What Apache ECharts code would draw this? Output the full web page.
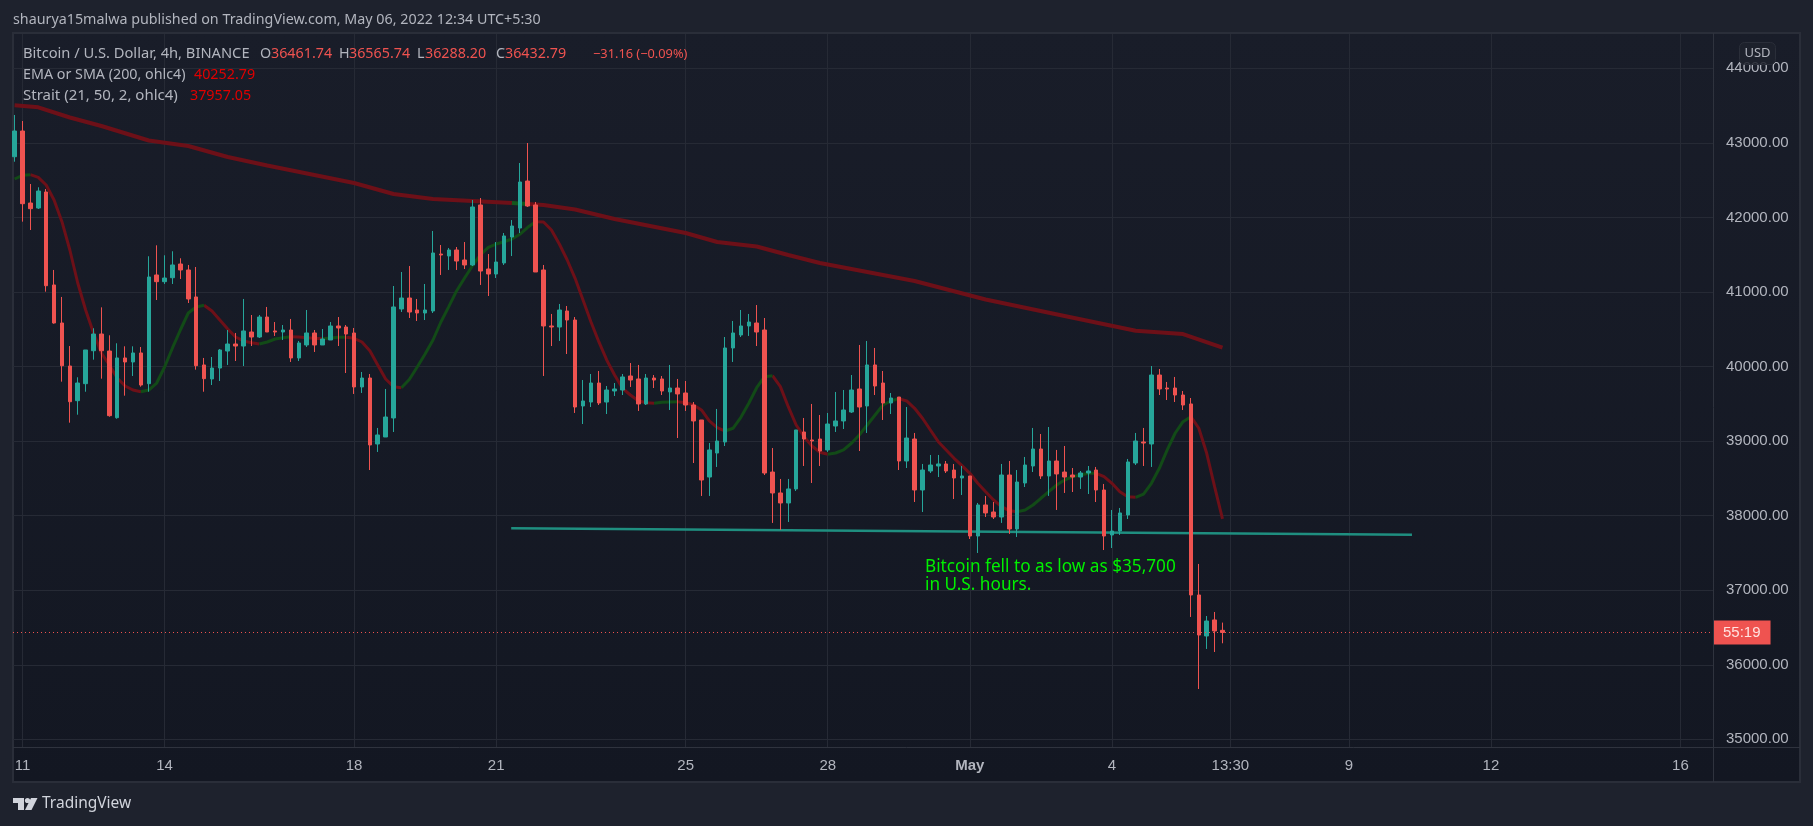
<!DOCTYPE html>
<html>
<head>
<meta charset="utf-8">
<title>BTCUSD 4h</title>
<style>
  html, body { margin: 0; padding: 0; background: #1e222d; }
  #main { width: 1813px; height: 826px; }
</style>
<script src="https://cdn.jsdelivr.net/npm/echarts@6/dist/echarts.min.js"></script>
</head>
<body>
<div id="main"></div>
<script>
// 4h candles, bar index is the x value
const opens = [42814,43159,42193,42126,42341,41094,40584,40007,39542,39770,
  40212,40436,40208,39314,40115,40061,40182,39770,41228,41138,
  41191,41375,41295,40933,40021,39833,39980,40208,40302,40275,
  40463,40396,40664,40477,40463,40490,40115,40289,40450,40289,
  40356,40544,40530,40450,39726,39846,38961,39055,39310,40772,
  40919,40758,40718,40745,41509,41483,41563,41429,41362,42167,
  41308,41241,41389,41737,41858,42488,42167,41295,40544,40530,
  40745,40624,39471,39524,39779,39524,39672,39685,39873,39833,
  39498,39846,39833,39659,39712,39645,39484,39283,38518,38840,
  38988,40249,40423,40544,40584,40490,38585,38304,38170,38358,
  39122,39015,39028,38881,39202,39270,39390,39699,39471,40021,
  39779,39511,39591,38733,39028,38344,38599,38666,38693,38612,
  38505,38532,37727,38143,38049,37982,38545,37821,38438,38666,
  38894,38532,38733,38585,38545,38518,38572,38612,38344,37741,
  37794,38009,38706,38988,38961,39886,39712,39712,39618,39498,
  36936,36386,36601,36461.74]
const closes = [43159,42184,42117,42354,41084,40584,40011,39528,39779,40222,
  40436,40212,39341,40115,40061,40182,39752,41201,41138,41187,
  41362,41295,40906,40011,39837,39980,40222,40302,40275,40477,
  40396,40664,40463,40463,40490,40115,40316,40450,40289,40369,
  40544,40517,40436,39726,39846,38948,39082,39323,40799,40919,
  40731,40718,40758,41523,41496,41563,41415,41362,42140,41281,
  41241,41402,41751,41885,42475,42153,41268,40544,40530,40758,
  40624,39457,39538,39779,39511,39685,39699,39860,39819,39498,
  39846,39819,39672,39712,39632,39484,39270,38478,38881,39001,
  40249,40450,40544,40597,40463,38572,38304,38170,38358,39149,
  39028,39001,38867,39229,39270,39417,39685,39457,40021,39739,
  39511,39578,38733,39041,38344,38612,38679,38693,38599,38505,
  38532,37727,38143,38036,37982,38545,37821,38451,38679,38894,
  38532,38733,38559,38518,38518,38572,38599,38344,37727,37794,
  38036,38720,39001,38974,39886,39699,39699,39618,39484,36936,
  36399,36587,36453,36432.79]
const highs = [43374,43293,42448,42404,42381,41295,40933,40275,39856,40222,
  40513,40794,40419,40312,40271,40271,40262,41479,41626,41492,
  41546,41452,41362,41335,40115,40128,40235,40490,40450,40906,
  40691,40691,40799,40597,40557,40638,40343,40758,40490,40503,
  40597,40664,40557,40517,39927,39900,39176,39699,41080,41268,
  41348,40906,41107,41818,41630,41590,41603,41670,42234,42260,
  41509,41670,41791,41965,42730,42998,42207,41362,40705,40839,
  40812,40664,39819,39900,39940,39739,39779,39900,40047,40021,
  39900,39886,39873,40021,39833,39806,39524,39283,38974,39431,
  40396,40611,40758,40705,40825,40651,38907,38492,38492,39149,
  39310,39498,39350,39377,39659,39685,39886,40289,40343,40249,
  39940,39645,39591,39457,39109,38693,38814,38814,38733,38693,
  38666,38532,38170,38264,38183,38693,38733,38612,38787,39176,
  39095,39189,38881,38934,38639,38599,38666,38653,38425,38076,
  38103,38760,39109,39176,40007,39967,39793,39860,39672,39578,
  37352,36654,36708,36565.74]
const lows = [42747,41943,41831,42113,41004,40575,39797,39247,39354,39662,
  40092,39837,39327,39300,39609,39873,39730,39662,40892,41107,
  41107,41174,40852,39958,39662,39752,39806,40021,40074,40007,
  40275,40383,40463,40410,40356,40061,40074,40262,40195,40289,
  40356,40275,39913,39632,39645,38612,38854,39055,39122,40731,
  40651,40611,40624,40718,41228,41295,41295,41308,41348,41094,
  40946,41187,41362,41482,41791,42140,41268,39873,40275,40343,
  40168,39377,39229,39457,39484,39363,39605,39618,39726,39404,
  39484,39712,39618,39417,39041,39404,38706,38264,38264,38653,
  38934,40061,40396,40410,40275,38545,37902,37808,37915,38331,
  38666,38438,38666,38854,39122,39162,39377,38867,39109,39618,
  39283,39363,38612,38639,38183,38049,38572,38518,38572,38223,
  38277,37687,37499,37982,37955,37902,37754,37714,38384,38585,
  38492,38264,38076,38304,38317,38358,38290,38183,37539,37566,
  37741,37955,38679,38666,38653,39618,39551,39524,39417,36641,
  35675,36212,36171,36288.20]

// Strait indicator, one value per bar
const straitValues = [42515,42565,42573,42538,42435,42234,41943,41563,41120,40758,
  40450,40182,40021,39846,39739,39685,39662,39685,39779,39994,
  40249,40490,40718,40799,40821,40745,40624,40503,40396,40343,
  40320,40302,40329,40369,40387,40400,40396,40387,40379,40373,
  40383,40392,40392,40379,40329,40212,40021,39833,39730,39716,
  39826,39994,40168,40356,40597,40803,41017,41187,41352,41496,
  41599,41643,41674,41711,41774,41867,41943,41939,41831,41643,
  41429,41183,40892,40601,40333,40088,39886,39708,39618,39542,
  39515,39507,39520,39524,39528,39515,39484,39417,39270,39180,
  39135,39172,39319,39507,39716,39864,39877,39730,39461,39216,
  39059,38934,38850,38823,38840,38881,38971,39082,39216,39350,
  39484,39538,39569,39538,39440,39306,39149,38992,38881,38769,
  38670,38568,38434,38321,38210,38120,38067,38053,38076,38143,
  38233,38321,38411,38478,38523,38545,38568,38568,38523,38434,
  38321,38254,38246,38290,38434,38635,38881,39105,39260,39327,
  39172,38836,38388,37957.05]
const straitGreenRuns = [[0,2],[16,24],[31,35],[39,42],[49,66],[81,84],[90,96],[103,112],[127,137],[142,149]]

// EMA or SMA, read at these bars
const maBars = [0,3,7,11,17,22,27,32,43,48,53,63,65,67,71,76,85,89,94,98,102,114,123,133,142,148,153]
const maValues = [43504,43476,43340,43226,43032,42958,42810,42696,42462,42314,42247,42193,42180,42167,42106,41979,41791,41670,41610,41496,41389,41147,40899,40678,40481,40436,40252.79]
const maGreenRuns = [[63,65]]

const trendBars = [62.9,177]
const trendPrices = [37832,37745]

const priceTicks = [35000,36000,37000,38000,39000,40000,41000,42000,43000,44000]
const timeTickBars = [1,19,43,61,85,103,121,139,154,169,187,211]
const timeTickLabels = ['11','14','18','21','25','28','May','4','13:30','9','12','16']

const lastClose = 36432.79
const countdown = '55:19'
const ohlcKeys = ['O','H','L','C']
const ohlcTexts = ['36461.74','36565.74','36288.20','36432.79']
const changeText = '−31.16 (−0.09%)'
const note = 'Bitcoin fell to as low as $35,700\nin U.S. hours.'

const UI_FONT = '"Noto Sans", sans-serif'
const AXIS_FONT = '"Liberation Sans", sans-serif'
const UP = '#26a69a'
const DOWN = '#ef5350'

function inRuns(i, runs) {
  return runs.some(r => i >= r[0] && i <= r[1])
}

function label(text, x, y, fill, size, opts) {
  return {
    type: 'text', z: 20, x: x, y: y,
    style: Object.assign({
      text: text, fill: fill, font: (size || 14.3) + 'px ' + UI_FONT, verticalAlign: 'middle'
    }, opts || {})
  }
}

function hline(x1, y1, x2, y2, color) {
  return { type: 'line', z: 15, shape: { x1: x1, y1: y1, x2: x2, y2: y2 }, style: { stroke: color, lineWidth: 1 } }
}

const myChart = echarts.init(document.getElementById('main'), null, { renderer: 'canvas' })

const candles = opens.map((o, i) => [i, o, closes[i], lows[i], highs[i]])
// the first and last point of a green run are kept in the red line too, so the two join up
const straitRed = straitValues.map((v, i) => {
  const inside = inRuns(i, straitGreenRuns) && inRuns(i - 1, straitGreenRuns) && inRuns(i + 1, straitGreenRuns)
  return [i, inside ? null : v]
})
const straitGreen = straitValues.map((v, i) => [i, inRuns(i, straitGreenRuns) ? v : null])
const maPairs = maBars.map((b, i) => [b, maValues[i]])
// break the red line between the two ends of the green run
const maRed = [
  ...maPairs.filter(p => p[0] <= maGreenRuns[0][0]),
  [maGreenRuns[0][0] + 1, null],
  ...maPairs.filter(p => p[0] >= maGreenRuns[0][1])
]
const maGreen = maPairs.filter(p => inRuns(p[0], maGreenRuns))

function lineSeries(data, color, width) {
  return {
    type: 'line', data: data, showSymbol: false, symbol: 'none', z: 2, silent: true,
    connectNulls: false, smooth: false, lineStyle: { color: color, width: width }, animation: false
  }
}

// legend rows and the frame are plain graphics
let legendItems = [
  label('Bitcoin / U.S. Dollar, 4h, BINANCE', 23, 54, '#b2b5be', 14.7),
  label('EMA or SMA (200, ohlc4)', 23, 75, '#b2b5be'),
  label('40252.79', 194, 75, '#e00000'),
  label('Strait (21, 50, 2, ohlc4)', 23, 96, '#b2b5be', 15),
  label('37957.05', 190, 96, '#e00000'),
  label(changeText, 593, 54, DOWN, 12.8)
]
const ohlcX = [260, 339, 417, 496]
const ohlcGap = [11, 10, 8, 9]
ohlcKeys.forEach((k, i) => {
  legendItems.push(label(k, ohlcX[i], 54, '#b2b5be'))
  legendItems.push(label(ohlcTexts[i], ohlcX[i] + ohlcGap[i], 54, DOWN))
})

const option = {
  animation: false,
  backgroundColor: '#1e222d',
  grid: { left: 13, right: 100, top: 34, bottom: 79, containLabel: false },
  xAxis: {
    type: 'value',
    min: -0.2,
    max: 215.13,
    axisLine: { show: false },
    axisTick: { show: false, customValues: timeTickBars },
    splitLine: { show: true, lineStyle: { color: '#262a35', width: 1 } },
    axisLabel: {
      customValues: timeTickBars,
      margin: 11,
      color: '#b2b5be',
      fontSize: 15,
      fontFamily: AXIS_FONT,
      formatter: function(v) {
        const t = timeTickLabels[timeTickBars.indexOf(v)]
        return t === 'May' ? '{b|May}' : t
      },
      rich: { b: { fontWeight: 'bold', fontSize: 15, fontFamily: AXIS_FONT, color: '#b2b5be' } }
    }
  },
  yAxis: {
    type: 'value',
    position: 'right',
    min: 34897,
    max: 44460,
    axisLine: { show: false },
    axisTick: { show: false, customValues: priceTicks },
    splitLine: { show: true, lineStyle: { color: '#262a35', width: 1 } },
    axisLabel: {
      customValues: priceTicks,
      margin: 13,
      padding: [2, 0, 0, 0],
      color: '#b2b5be',
      fontSize: 15,
      fontFamily: AXIS_FONT,
      formatter: v => v.toFixed(2)
    }
  },
  series: [
    lineSeries(trendBars.map((b, i) => [b, trendPrices[i]]), '#1f8f80', 2.5),
    lineSeries(maRed, '#6d1018', 4),
    lineSeries(maGreen, '#14551c', 4),
    lineSeries(straitRed, '#6d1018', 3),
    lineSeries(straitGreen, '#124a17', 3),
    {
      type: 'candlestick',
      layout: 'horizontal',
      z: 3,
      barWidth: 4,
      silent: true,
      data: candles,
      itemStyle: { color: UP, color0: DOWN, borderColor: UP, borderColor0: DOWN, borderWidth: 1 },
      markLine: {
        silent: true,
        symbol: 'none',
        animation: false,
        lineStyle: { color: DOWN, type: [1, 3], width: 1 },
        label: {
          position: 'end', distance: 0, formatter: countdown, color: '#ffe3e1', fontSize: 15,
          fontFamily: AXIS_FONT, backgroundColor: DOWN, padding: [5, 10, 4, 10]
        },
        data: [{ yAxis: lastClose }]
      }
    }
  ],
  graphic: [
    {
      type: 'rect', z: -10, shape: { x: 13, y: 33, width: 1787, height: 749 },
      style: {
        stroke: '#2a2e39', lineWidth: 2,
        fill: new echarts.graphic.LinearGradient(0, 0, 0, 1, [
          { offset: 0, color: '#191d29' }, { offset: 1, color: '#131722' }
        ])
      }
    },
    hline(1713.5, 33, 1713.5, 782, '#2f333e'),
    hline(13, 747.5, 1800, 747.5, '#2f333e'),
    label('shaurya15malwa published on TradingView.com, May 06, 2022 12:34 UTC+5:30', 13, 20, '#b2b5be'),
    ...legendItems,
    {
      type: 'rect', z: 18, shape: { x: 1739.5, y: 42.5, width: 36, height: 22, r: 5 },
      style: { fill: 'rgba(30,34,45,0.85)', stroke: '#2a2e39', lineWidth: 1 }
    },
    label('USD', 1757.5, 53, '#b2b5be', 13, { align: 'center' }),
    label(note, 925, 576, '#00f000', 17.2, { lineHeight: 18 }),
    // TradingView mark
    { type: 'polygon', z: 20, shape: { points: [[13, 798], [24, 798], [24, 810], [18, 810], [18, 803], [13, 803]] }, style: { fill: '#d1d4dc' } },
    { type: 'polygon', z: 20, shape: { points: [[31, 798], [37.5, 798], [31.5, 810], [25, 810]] }, style: { fill: '#d1d4dc' } },
    { type: 'circle', z: 20, shape: { cx: 27.5, cy: 800.5, r: 2.6 }, style: { fill: '#d1d4dc' } },
    label('TradingView', 42, 804, '#d1d4dc', 15.5)
  ]
}

myChart.setOption(option)
</script>
</body>
</html>
